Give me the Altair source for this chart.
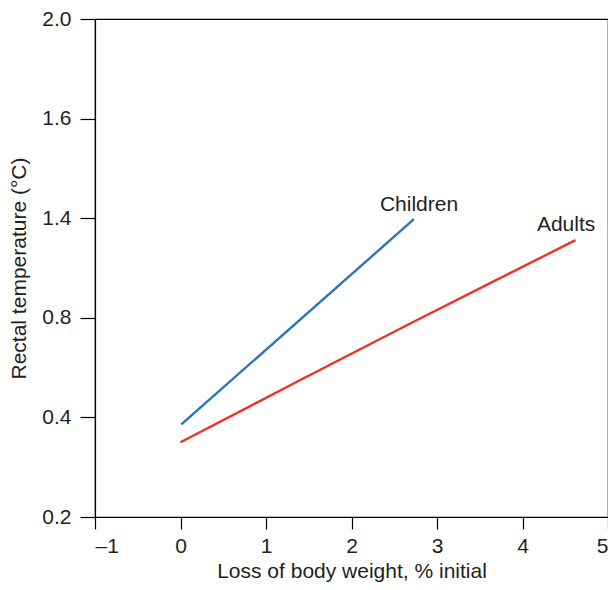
import altair as alt
import pandas as pd

# Axis tick labels (the original y axis is labelled at evenly spaced positions)
y_tick_labels = ["0.2", "0.4", "0.8", "1.4", "1.6", "2.0"]
y_tick_pos = [0, 1, 2, 3, 4, 5]
x_ticks = [-1, 0, 1, 2, 3, 4, 5]

# Series (x = loss of body weight %, y = position on the labelled axis)
children_x = [0.01, 2.73]
children_y = [0.93, 2.99]
adults_x = [0.0, 1.39, 2.75, 4.62]
adults_y = [0.75, 1.37, 1.97, 2.78]

# Line labels
label_text = ["Children", "Adults"]
label_x = [2.79, 4.51]
label_y = [3.13, 2.93]

rows = []
for x, y in zip(children_x, children_y):
    rows.append({"group": "Children", "x": x, "y": y})
for x, y in zip(adults_x, adults_y):
    rows.append({"group": "Adults", "x": x, "y": y})
df = pd.DataFrame(rows)
labels = pd.DataFrame({"text": label_text, "x": label_x, "y": label_y})

label_map = "{" + ",".join(f"'{p}':'{l}'" for p, l in zip(y_tick_pos, y_tick_labels)) + "}"
label_expr = f"{label_map}[datum.value]"

FONT = "Liberation Sans"
TXT = "#231f20"
FS = 21

xscale = alt.Scale(domain=[-1, 5], nice=False, zero=False)
yscale = alt.Scale(domain=[0, 5], nice=False, zero=False)

xaxis = alt.Axis(values=x_ticks, title="Loss of body weight, % initial",
                 tickSize=12, labelPadding=6, titlePadding=4,
                 labelExpr="datum.value < 0 ? '\u2013' + abs(datum.value) : datum.value")
yaxis = alt.Axis(values=y_tick_pos, title="Rectal temperature (\u00b0C)",
                 tickSize=15, labelPadding=9, titlePadding=12,
                 labelExpr=label_expr)

lines = alt.Chart(df).mark_line(strokeWidth=2.4).encode(
    x=alt.X("x:Q", scale=xscale, axis=xaxis),
    y=alt.Y("y:Q", scale=yscale, axis=yaxis),
    color=alt.Color("group:N", scale=alt.Scale(domain=["Children", "Adults"],
                                               range=["#2b74b6", "#ee3124"]), legend=None),
    detail="group:N",
)

text = alt.Chart(labels).mark_text(font=FONT, fontSize=FS, color=TXT, align="center",
                                   baseline="middle").encode(
    x=alt.X("x:Q", scale=xscale, axis=xaxis),
    y=alt.Y("y:Q", scale=yscale, axis=yaxis),
    text="text:N",
)

chart = (lines + text).properties(
    width=513, height=498,
    autosize=alt.AutoSizeParams(type="none"),
    padding={"left": 87, "top": 11, "right": 0, "bottom": 65},
).configure_view(stroke="black", strokeWidth=1.2).configure_axis(
    domainWidth=1.2, tickWidth=1.2, grid=False,
    labelFontSize=FS, titleFontSize=FS, titleFontWeight="normal",
    labelFont=FONT, titleFont=FONT, labelColor=TXT, titleColor=TXT,
    domainColor="black", tickColor="black",
)

chart.save("out.html", embed_options={"renderer": "svg", "actions": False})
